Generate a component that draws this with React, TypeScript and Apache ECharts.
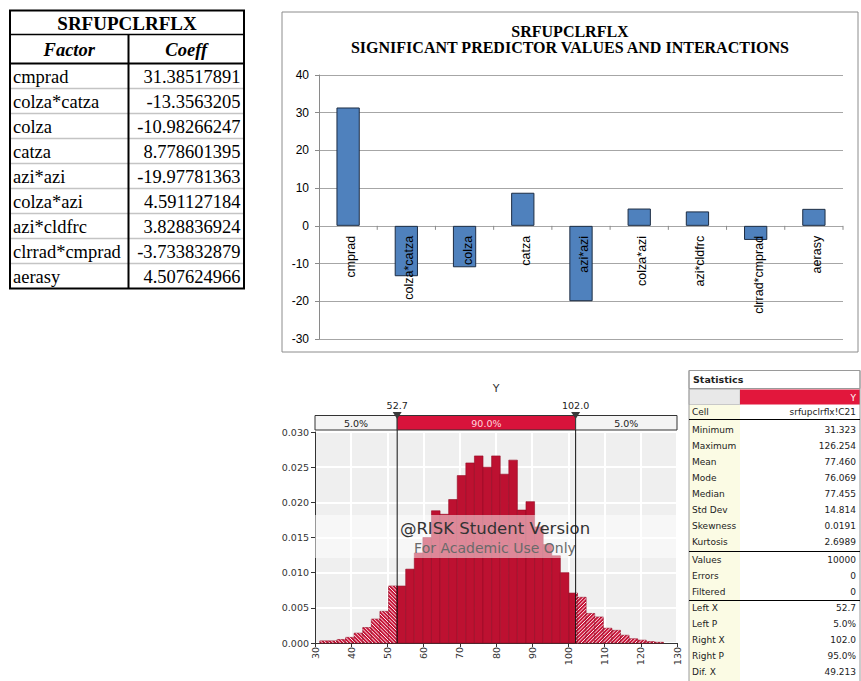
import React, { useEffect, useRef } from 'react';
import * as echarts from 'echarts';

// ---------- data ----------
const tableTitle = 'SRFUPCLRFLX';
const factorHeader = 'Factor';
const coeffHeader = 'Coeff';
const factors = ['cmprad', 'colza*catza', 'colza', 'catza', 'azi*azi', 'colza*azi', 'azi*cldfrc', 'clrrad*cmprad', 'aerasy'];
const coeffs = [31.38517891, -13.3563205, -10.98266247, 8.778601395, -19.97781363, 4.591127184, 3.828836924, -3.733832879, 4.507624966];

const barTitle1 = 'SRFUPCLRFLX';
const barTitle2 = 'SIGNIFICANT PREDICTOR VALUES AND INTERACTIONS';
const barYMin = -30;
const barYMax = 40;
const barYStep = 10;

const histTitle = 'Y';
const histMin = 31.323;
const histMax = 126.254;
const histDensity = [
  0.0003, 0.0003, 0.0005, 0.0008, 0.0014, 0.0022, 0.0034, 0.0045, 0.0081,
  0.0081, 0.0105, 0.0128, 0.015,
  0.0188, 0.0183, 0.0204, 0.0238, 0.0256, 0.0266, 0.025, 0.0266, 0.024, 0.026, 0.0189, 0.0201,
  0.0165, 0.014, 0.0124, 0.01, 0.0071, 0.0065, 0.0042, 0.0037, 0.0021, 0.0018, 0.0011, 0.0006, 0.0004, 0.0002, 0.0001,
];
const histXMin = 30;
const histXMax = 130;
const histXStep = 10;
const histYMax = 0.03;
const histYStep = 0.005;
const delimiters = [52.7, 102.0];
const delimiterLabels = ['52.7', '102.0'];
const bandPercents = ['5.0%', '90.0%', '5.0%'];
const watermark1 = '@RISK Student Version';
const watermark2 = 'For Academic Use Only';

const statHeader = 'Statistics';
const statSeriesName = 'Y';
const statCellLabel = 'Cell';
const statCellValue = 'srfupclrflx!C21';
const statLabels1 = ['Minimum', 'Maximum', 'Mean', 'Mode', 'Median', 'Std Dev', 'Skewness', 'Kurtosis'];
const statValues1 = ['31.323', '126.254', '77.460', '76.069', '77.455', '14.814', '0.0191', '2.6989'];
const statLabels2 = ['Values', 'Errors', 'Filtered'];
const statValues2 = ['10000', '0', '0'];
const statLabels3 = ['Left X', 'Left P', 'Right X', 'Right P', 'Dif. X'];
const statValues3 = ['52.7', '5.0%', '102.0', '95.0%', '49.213'];

// ---------- helpers ----------
const SERIF = 'Liberation Serif, Times New Roman, serif';
const SANS = 'Liberation Sans, Arial, sans-serif';
const TAHOMA = 'DejaVu Sans, Verdana, sans-serif';

function txt(text: string, x: number, y: number, o: any = {}) {
  return {
    type: 'text',
    z: o.z ?? 2,
    silent: true,
    style: {
      text,
      x,
      y,
      fill: o.fill ?? '#000',
      fontSize: o.size ?? 12,
      fontFamily: o.family ?? SERIF,
      fontWeight: o.weight ?? 'normal',
      fontStyle: o.fstyle ?? 'normal',
      align: o.align ?? 'left',
      verticalAlign: 'middle',
    },
  };
}
function ln(x1: number, y1: number, x2: number, y2: number, stroke: string, w = 1, z = 2) {
  return { type: 'line', z, silent: true, shape: { x1, y1, x2, y2 }, style: { stroke, lineWidth: w } };
}
function rc(x: number, y: number, w: number, h: number, fill: string, stroke?: string, lw = 1, z = 1) {
  return {
    type: 'rect',
    z,
    silent: true,
    shape: { x, y, width: w, height: h },
    style: { fill, stroke: stroke ?? 'none', lineWidth: stroke ? lw : 0 },
  };
}

function buildGraphics() {
  const els: any[] = [];
  // ----- left table -----
  const tL = 10, tR = 244, tTop = 10.5, tTitleB = 34.5, tHeadB = 63.5, tRowH = 25, tDiv = 128.5;
  const tBottom = tHeadB + factors.length * tRowH;
  els.push(rc(tL, tTop, tR - tL, tBottom - tTop, '#ffffff'));
  for (let i = 1; i < factors.length; i++) {
    els.push(ln(tL, tHeadB + i * tRowH, tR, tHeadB + i * tRowH, '#c4c4c4', 1.5));
  }
  els.push(ln(tDiv, tTitleB, tDiv, tBottom, '#000', 2));
  els.push(ln(tL, tTitleB, tR, tTitleB, '#000', 1.5));
  els.push(ln(tL, tHeadB, tR, tHeadB, '#000', 2));
  els.push(rc(tL, tTop, tR - tL, tBottom - tTop, 'none', '#000', 2, 3));
  els.push(txt(tableTitle, (tL + tR) / 2, (tTop + tTitleB) / 2 + 0.5, { size: 19, weight: 'bold', align: 'center' }));
  els.push(txt(factorHeader, (tL + tDiv) / 2, (tTitleB + tHeadB) / 2 + 0.5, { size: 18.5, weight: 'bold', fstyle: 'italic', align: 'center' }));
  els.push(txt(coeffHeader, (tDiv + tR) / 2, (tTitleB + tHeadB) / 2 + 0.5, { size: 18.5, weight: 'bold', fstyle: 'italic', align: 'center' }));
  factors.forEach((f, i) => {
    const cy = tHeadB + i * tRowH + tRowH / 2 + 0.5;
    els.push(txt(f, tL + 3, cy, { size: 18.5 }));
    els.push(txt(String(coeffs[i]), tR - 3.5, cy, { size: 18.5, align: 'right' }));
  });

  // ----- bar chart frame & title -----
  els.push(rc(282, 12, 576, 340, 'none', '#8c8c8c', 1, 0));
  els.push(txt(barTitle1, 570, 31, { size: 16, weight: 'bold', align: 'center' }));
  els.push(txt(barTitle2, 570, 47.5, { size: 16, weight: 'bold', align: 'center' }));

  // ----- histogram title & watermark -----
  els.push(txt(histTitle, 496, 388, { size: 11, family: TAHOMA, fill: '#333', align: 'center' }));
  els.push(rc(315, 515, 362, 43, 'rgba(255,255,255,0.5)', undefined, 1, 50));
  els.push(txt(watermark1, 495, 528.5, { size: 16.5, family: TAHOMA, fill: '#333333', align: 'center', z: 51 }));
  els.push(txt(watermark2, 495, 548, { size: 14, family: TAHOMA, fill: '#6a6a6a', align: 'center', z: 51 }));

  // ----- statistics table -----
  const sL = 689, sR = 860, sMid = 740;
  els.push(rc(sL, 370.5, sR - sL, 18, '#ffffff', '#9a9a9a', 1));
  els.push(txt(statHeader, sL + 4, 379.5, { size: 9.5, family: TAHOMA, weight: 'bold', fill: '#222' }));
  els.push(rc(sL, 389.5, sMid - sL, 15, '#e8e8e8', '#c8c8c8', 1));
  els.push(rc(sMid, 389.5, sR - sMid, 15, '#e2173c'));
  els.push(txt(statSeriesName, sR - 4, 397.5, { size: 9, family: TAHOMA, fill: '#ffffff', align: 'right' }));
  els.push(rc(sL, 405, sMid - sL, 276, '#fbfbe4'));
  els.push(ln(sL, 370.5, sL, 681, '#9a9a9a', 1));
  els.push(ln(sR, 370.5, sR, 681, '#9a9a9a', 1));
  els.push(txt(statCellLabel, sL + 3, 412, { size: 9, family: TAHOMA, fill: '#222' }));
  els.push(txt(statCellValue, sR - 4, 412, { size: 9, family: TAHOMA, fill: '#222', align: 'right' }));
  els.push(ln(sL, 419.5, sR, 419.5, '#000', 1));
  statLabels1.forEach((l, i) => {
    const y = 430 + i * 16;
    els.push(txt(l, sL + 3, y, { size: 9, family: TAHOMA, fill: '#222' }));
    els.push(txt(statValues1[i], sR - 4, y, { size: 9, family: TAHOMA, fill: '#222', align: 'right' }));
  });
  els.push(ln(sL, 551.5, sR, 551.5, '#000', 1));
  statLabels2.forEach((l, i) => {
    const y = 560 + i * 16;
    els.push(txt(l, sL + 3, y, { size: 9, family: TAHOMA, fill: '#222' }));
    els.push(txt(statValues2[i], sR - 4, y, { size: 9, family: TAHOMA, fill: '#222', align: 'right' }));
  });
  els.push(ln(sL, 600.5, sR, 600.5, '#000', 1));
  statLabels3.forEach((l, i) => {
    const y = 608 + i * 16;
    els.push(txt(l, sL + 3, y, { size: 9, family: TAHOMA, fill: '#222' }));
    els.push(txt(statValues3[i], sR - 4, y, { size: 9, family: TAHOMA, fill: '#222', align: 'right' }));
  });
  return els;
}

function hatchLines(x0: number, y0: number, x1: number, y1: number, dir: 'left' | 'right') {
  const s = 3.6;
  const out: any[] = [];
  if (dir === 'left') {
    const kMin = Math.ceil((y0 - x1) / s), kMax = Math.floor((y1 - x0) / s);
    for (let k = kMin; k <= kMax; k++) {
      const c = k * s;
      const xa = Math.max(x0, y0 - c), xb = Math.min(x1, y1 - c);
      if (xb > xa) out.push({ type: 'line', shape: { x1: xa, y1: xa + c, x2: xb, y2: xb + c }, style: { stroke: 'rgba(255,255,255,0.9)', lineWidth: 1 } });
    }
  } else {
    const kMin = Math.ceil((x0 + y0) / s), kMax = Math.floor((x1 + y1) / s);
    for (let k = kMin; k <= kMax; k++) {
      const c = k * s;
      const xa = Math.max(x0, c - y1), xb = Math.min(x1, c - y0);
      if (xb > xa) out.push({ type: 'line', shape: { x1: xa, y1: c - xa, x2: xb, y2: c - xb }, style: { stroke: 'rgba(255,255,255,0.9)', lineWidth: 1 } });
    }
  }
  return out;
}

function buildOption() {
  const binW = (histMax - histMin) / histDensity.length;
  const binData = histDensity.map((v, i) => [histMin + i * binW, histMin + (i + 1) * binW, v]);
  const bandEdges = [histXMin, ...delimiters, histXMax];
  const bandData = bandPercents.map((_, i) => [bandEdges[i], bandEdges[i + 1]]);

  return {
    animation: false,
    backgroundColor: '#ffffff',
    grid: [
      { left: 319, top: 75, width: 524, height: 264, show: false },
      { left: 315, top: 432, width: 362, height: 211, show: true, backgroundColor: '#efefef', borderWidth: 0 },
    ],
    xAxis: [
      {
        type: 'category',
        gridIndex: 0,
        data: factors,
        axisLine: { show: false },
        axisTick: { show: false },
        axisLabel: { show: false },
        splitLine: { show: false },
      },
      {
        type: 'value',
        gridIndex: 1,
        min: histXMin,
        max: histXMax,
        interval: histXStep,
        axisLine: { show: true, onZero: false, lineStyle: { color: '#333', width: 1 } },
        axisTick: { show: true, length: 4, lineStyle: { color: '#333' } },
        axisLabel: { rotate: 90, fontSize: 9.5, fontFamily: TAHOMA, color: '#333', margin: 4 },
        splitLine: { show: true, lineStyle: { color: '#ffffff', width: 2 } },
      },
    ],
    yAxis: [
      {
        type: 'value',
        gridIndex: 0,
        min: barYMin,
        max: barYMax,
        interval: barYStep,
        axisLine: { show: true, lineStyle: { color: '#8a8a8a' } },
        axisTick: { show: true, length: 4, lineStyle: { color: '#8a8a8a' } },
        axisLabel: { fontSize: 12, fontFamily: SANS, color: '#000', margin: 10 },
        splitLine: { show: true, lineStyle: { color: '#a6a6a6', width: 1 } },
      },
      {
        type: 'value',
        gridIndex: 1,
        min: 0,
        max: histYMax,
        interval: histYStep,
        axisLine: { show: true, lineStyle: { color: '#333' } },
        axisTick: { show: true, length: 4, lineStyle: { color: '#333' } },
        axisLabel: { fontSize: 9.5, fontFamily: TAHOMA, color: '#333', margin: 6, formatter: (v: number) => v.toFixed(3) },
        splitLine: { show: true, lineStyle: { color: '#ffffff', width: 2 } },
      },
    ],
    series: [
      {
        type: 'bar',
        xAxisIndex: 0,
        yAxisIndex: 0,
        data: coeffs,
        barWidth: '40%',
        itemStyle: { color: '#4f81bd', borderColor: '#1d2d44', borderWidth: 1 },
        z: 2,
      },
      {
        // category labels and ticks along the zero line
        type: 'custom',
        xAxisIndex: 0,
        yAxisIndex: 0,
        data: factors.map((_, i) => [i, 0]),
        encode: { x: 0, y: 1 },
        z: 10,
        clip: false,
        silent: true,
        renderItem: (params: any, api: any) => {
          const p = api.coord([api.value(0), 0]);
          const w = api.size([1, 0])[0];
          return {
            type: 'group',
            children: [
              { type: 'line', shape: { x1: p[0] + w / 2, y1: p[1], x2: p[0] + w / 2, y2: p[1] + 4 }, style: { stroke: '#8a8a8a', lineWidth: 1 } },
              {
                type: 'text',
                x: p[0] + 3,
                y: p[1] + 10,
                rotation: Math.PI / 2,
                style: {
                  text: factors[params.dataIndex],
                  align: 'right',
                  verticalAlign: 'middle',
                  fontSize: 12.5,
                  fontFamily: SANS,
                  fill: '#000',
                },
              },
            ],
          };
        },
      },
      {
        type: 'custom',
        xAxisIndex: 1,
        yAxisIndex: 1,
        data: binData,
        encode: { x: [0, 1], y: 2 },
        z: 3,
        clip: false,
        renderItem: (params: any, api: any) => {
          const lo = api.value(0), hi = api.value(1), v = api.value(2);
          const cuts = [lo, ...delimiters.filter((d) => d > lo && d < hi), hi];
          const children: any[] = [];
          for (let i = 0; i < cuts.length - 1; i++) {
            const a = cuts[i], b = cuts[i + 1];
            const mid = (a + b) / 2;
            const hatch = mid < delimiters[0] ? 'left' : mid > delimiters[1] ? 'right' : null;
            const p0 = api.coord([a, v]);
            const p1 = api.coord([b, 0]);
            const x0 = p0[0], y0 = p0[1], x1 = p1[0], y1 = p1[1];
            children.push({
              type: 'rect',
              shape: { x: x0, y: y0, width: x1 - x0, height: y1 - y0 },
              style: { fill: hatch ? '#c8163a' : '#bd1131', stroke: '#930a23', lineWidth: 0.6 },
            });
            if (hatch) children.push(...hatchLines(x0, y0, x1, y1, hatch as any));
          }
          return { type: 'group', children };
        },
      },
      {
        type: 'custom',
        xAxisIndex: 1,
        yAxisIndex: 1,
        data: bandData,
        encode: { x: [0, 1] },
        z: 60,
        clip: false,
        silent: true,
        renderItem: (params: any, api: any) => {
          const cs = params.coordSys;
          const a = api.coord([api.value(0), 0])[0];
          const b = api.coord([api.value(1), 0])[0];
          const i = params.dataIndex;
          const mid = i === 1;
          return {
            type: 'group',
            children: [
              {
                type: 'rect',
                shape: { x: a, y: cs.y - 16.5, width: b - a, height: 14.5 },
                style: { fill: mid ? '#d8133b' : '#f4f4f4', stroke: '#333', lineWidth: 1 },
              },
              {
                type: 'text',
                style: {
                  text: bandPercents[i],
                  x: (a + b) / 2,
                  y: cs.y - 9,
                  align: 'center',
                  verticalAlign: 'middle',
                  fill: mid ? '#ffd6de' : '#222',
                  fontSize: 9.5,
                  fontFamily: TAHOMA,
                },
              },
            ],
          };
        },
      },
      {
        type: 'custom',
        xAxisIndex: 1,
        yAxisIndex: 1,
        data: delimiters.map((d) => [d]),
        encode: { x: 0 },
        z: 70,
        clip: false,
        silent: true,
        renderItem: (params: any, api: any) => {
          const cs = params.coordSys;
          const x = api.coord([api.value(0), 0])[0];
          return {
            type: 'group',
            children: [
              { type: 'line', shape: { x1: x, y1: cs.y - 2, x2: x, y2: cs.y + cs.height }, style: { stroke: '#111', lineWidth: 1 } },
              { type: 'polygon', shape: { points: [[x - 4.5, cs.y - 20], [x + 4.5, cs.y - 20], [x, cs.y - 13]] }, style: { fill: '#3a3a3a' } },
              {
                type: 'text',
                style: {
                  text: delimiterLabels[params.dataIndex],
                  x,
                  y: cs.y - 27,
                  align: 'center',
                  verticalAlign: 'middle',
                  fill: '#222',
                  fontSize: 9.5,
                  fontFamily: TAHOMA,
                },
              },
            ],
          };
        },
      },
    ],
    graphic: { elements: buildGraphics() },
  };
}

export default function App() {
  const ref = useRef<HTMLDivElement>(null);
  useEffect(() => {
    if (!ref.current) return;
    const chart = echarts.init(ref.current, null, { renderer: 'svg' });
    chart.setOption(buildOption() as any);
    return () => chart.dispose();
  }, []);
  return (
    <div
      ref={ref}
      style={{ position: 'absolute', left: 0, top: 0, width: 861, height: 681, background: '#ffffff' }}
    />
  );
}
